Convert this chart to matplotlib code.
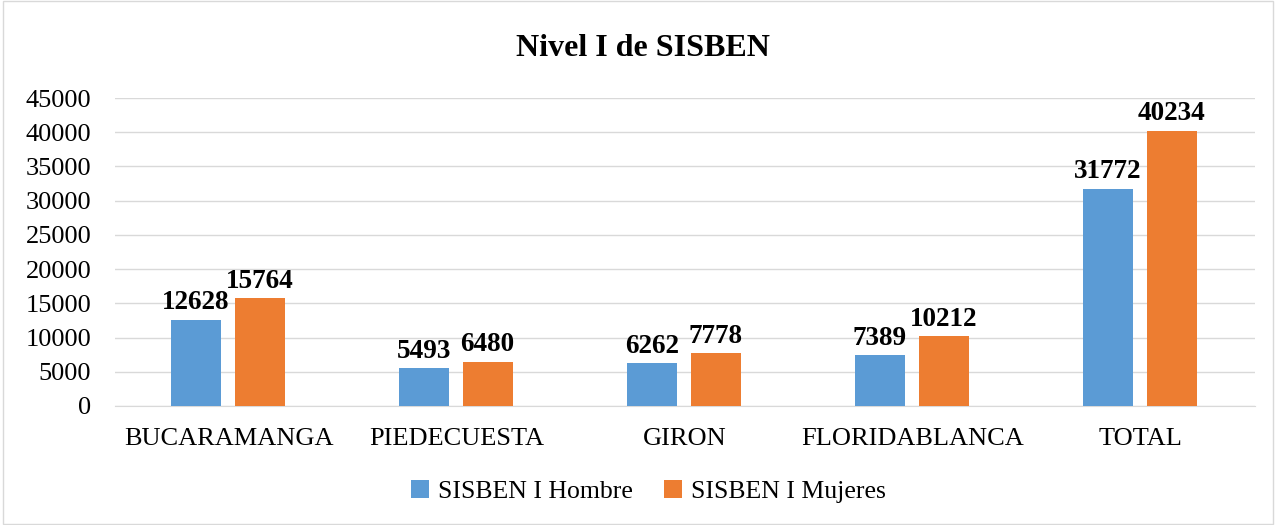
import numpy as np
import matplotlib.pyplot as plt
from matplotlib.patches import Rectangle

plt.rcParams['font.family'] = ['Liberation Serif', 'DejaVu Serif']

categorias = ["BUCARAMANGA", "PIEDECUESTA", "GIRON", "FLORIDABLANCA", "TOTAL"]
hombres = [12628, 5493, 6262, 7389, 31772]
mujeres = [15764, 6480, 7778, 10212, 40234]
series = ["SISBEN I Hombre", "SISBEN I Mujeres"]

azul = "#5b9bd5"
naranja = "#ed7d31"

fig = plt.figure(figsize=(12.76, 5.25), dpi=100)
ax = fig.add_axes([0.090, 0.2267, 0.8935, 0.5866])

x = np.arange(len(categorias))
ancho = 0.22
b1 = ax.bar(x - 0.145, hombres, ancho, color=azul, label=series[0], zorder=3)
b2 = ax.bar(x + 0.135, mujeres, ancho, color=naranja, label=series[1], zorder=3)

for barras in (b1, b2):
    for r in barras:
        ax.annotate(f"{int(r.get_height())}", (r.get_x() + r.get_width() / 2, r.get_height()),
                    xytext=(0, 3), textcoords="offset points", ha="center", va="bottom",
                    fontsize=19.5, fontweight="bold")

ax.set_xlim(-0.5, 4.5)
ax.set_ylim(0, 45000)
ax.set_yticks(np.arange(0, 45001, 5000))
ax.set_xticks(x)
ax.set_xticklabels(categorias)
ax.tick_params(axis="both", labelsize=19, length=0)
ax.tick_params(axis="x", pad=16)
ax.tick_params(axis="y", pad=17)
ax.grid(axis="y", color="#d9d9d9", lw=1, zorder=0)
for s in ["top", "right", "left"]:
    ax.spines[s].set_visible(False)
ax.spines["bottom"].set_color("#d9d9d9")

fig.text(0.504, 0.908, "Nivel I de SISBEN", ha="center", va="center", fontsize=23, fontweight="bold")

fig.legend(handles=[b1, b2], loc="center", bbox_to_anchor=(0.508, 0.063), ncol=2,
           frameon=False, fontsize=18.5, handlelength=0.7, handleheight=0.7, columnspacing=1.2,
           handletextpad=0.35)

fig.patches.append(Rectangle((0.002, 0.002), 0.996, 0.996, transform=fig.transFigure,
                             fill=False, edgecolor="#d9d9d9", lw=1))

fig.savefig("out.png", dpi=100)
